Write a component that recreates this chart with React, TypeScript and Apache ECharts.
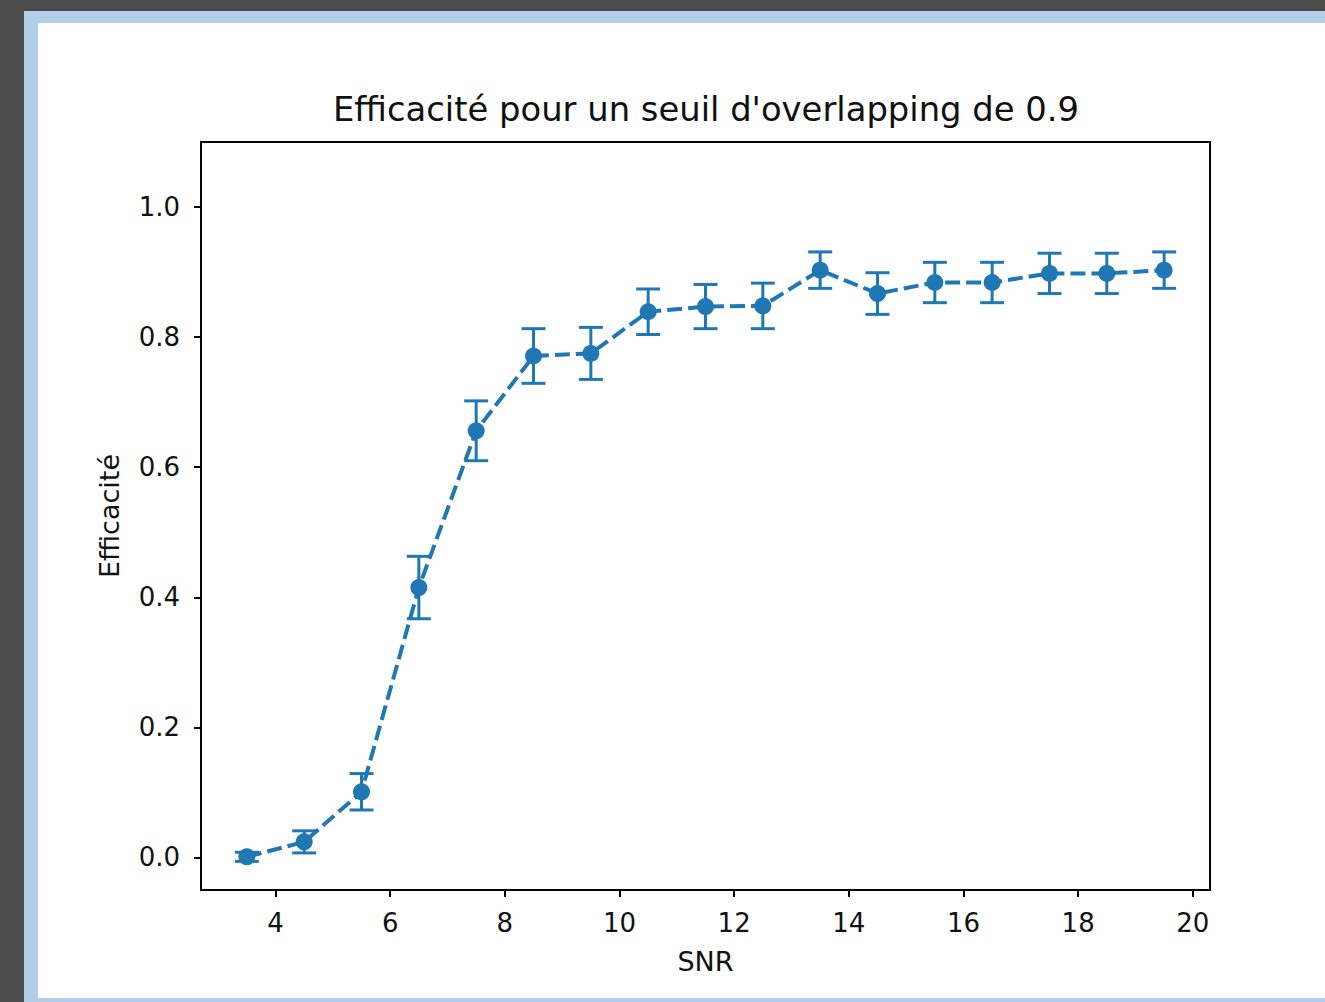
import React, { useEffect, useRef } from "react";
import * as echarts from "echarts";

const snr = [3.5, 4.5, 5.5, 6.5, 7.5, 8.5, 9.5, 10.5, 11.5, 12.5, 13.5, 14.5, 15.5, 16.5, 17.5, 18.5, 19.5];
const efficacite = [0.001, 0.024, 0.101, 0.415, 0.656, 0.771, 0.775, 0.839, 0.847, 0.848, 0.903, 0.867, 0.884, 0.884, 0.898, 0.898, 0.903];
const erreur = [0.007, 0.017, 0.028, 0.048, 0.046, 0.042, 0.040, 0.035, 0.034, 0.035, 0.028, 0.032, 0.031, 0.031, 0.031, 0.031, 0.028];
const xTicks = [4, 6, 8, 10, 12, 14, 16, 18, 20];
const yTicks = [0, 0.2, 0.4, 0.6, 0.8, 1.0];

const titleText = "Efficacité pour un seuil d'overlapping de 0.9";
const xName = "SNR";
const yName = "Efficacité";

const BLUE = "#1f77b4";
const FONT = "DejaVu Sans";

export default function App() {
  const ref = useRef<HTMLDivElement>(null);
  useEffect(() => {
    if (!ref.current) return;
    const chart = echarts.init(ref.current, null, { renderer: "svg" });
    const lineData = snr.map((x, i) => [x, efficacite[i]]);
    const errData = snr.map((x, i) => [x, efficacite[i], erreur[i]]);
    chart.setOption({
      animation: false,
      backgroundColor: "#4b4b4b",
      graphic: [
        { type: "rect", z: -10, shape: { x: 24, y: 11, width: 1301, height: 991 }, style: { fill: "#b1cde7" }, silent: true },
        { type: "rect", z: -9, shape: { x: 38, y: 23, width: 1287, height: 975 }, style: { fill: "#ffffff" }, silent: true },
      ],
      title: {
        text: titleText,
        left: 701,
        textAlign: "center",
        top: 87,
        textStyle: { fontFamily: FONT, fontSize: 33.8, fontWeight: "normal", color: "#111" },
      },
      grid: {
        left: 201,
        top: 142,
        right: 115,
        bottom: 112,
        show: true,
        borderColor: "#000",
        borderWidth: 2,
        backgroundColor: "transparent",
      },
      xAxis: {
        type: "value",
        min: 2.7,
        max: 20.3,
        name: xName,
        nameLocation: "middle",
        nameGap: 58,
        nameTextStyle: { fontFamily: FONT, fontSize: 27, color: "#111" },
        splitLine: { show: false },
        axisLine: { show: true, onZero: false, lineStyle: { color: "#000", width: 2 } },
        axisTick: { show: true, customValues: xTicks, length: 7, lineStyle: { color: "#000", width: 2 } },
        axisLabel: { customValues: xTicks, margin: 20, fontFamily: FONT, fontSize: 26, color: "#111", formatter: (v: number) => String(v) },
      },
      yAxis: {
        type: "value",
        min: -0.05,
        max: 1.1,
        name: yName,
        nameLocation: "middle",
        nameGap: 78,
        nameTextStyle: { fontFamily: FONT, fontSize: 27, color: "#111" },
        splitLine: { show: false },
        axisLine: { show: true, onZero: false, lineStyle: { color: "#000", width: 2 } },
        axisTick: { show: true, customValues: yTicks, length: 7, lineStyle: { color: "#000", width: 2 } },
        axisLabel: { customValues: yTicks, margin: 21, fontFamily: FONT, fontSize: 26, color: "#111", formatter: (v: number) => v.toFixed(1) },
      },
      series: [
        {
          type: "custom",
          data: errData,
          encode: { x: 0, y: 1 },
          z: 2,
          renderItem: (params: any, api: any) => {
            const x = api.value(0);
            const y = api.value(1);
            const e = api.value(2);
            const lo = api.coord([x, y - e]);
            const hi = api.coord([x, y + e]);
            const hw = 12;
            const style = { stroke: BLUE, lineWidth: 3 };
            return {
              type: "group",
              children: [
                { type: "line", shape: { x1: lo[0], y1: lo[1], x2: hi[0], y2: hi[1] }, style },
                { type: "line", shape: { x1: lo[0] - hw, y1: lo[1], x2: lo[0] + hw, y2: lo[1] }, style },
                { type: "line", shape: { x1: hi[0] - hw, y1: hi[1], x2: hi[0] + hw, y2: hi[1] }, style },
              ],
            };
          },
        },
        {
          type: "line",
          data: lineData,
          z: 3,
          symbol: "circle",
          symbolSize: 17,
          itemStyle: { color: BLUE },
          lineStyle: { color: BLUE, width: 4, type: [15, 6] },
        },
      ],
    });
    return () => chart.dispose();
  }, []);
  return <div ref={ref} style={{ position: "fixed", left: 0, top: 0, width: 1325, height: 1002 }} />;
}
